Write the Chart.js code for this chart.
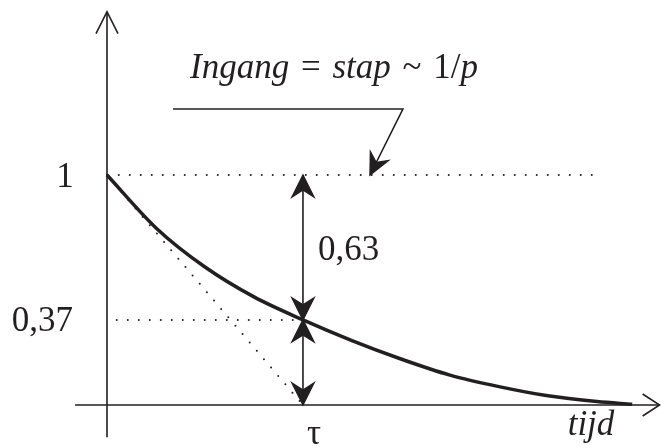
<!DOCTYPE html>
<html>
<head>
<meta charset="utf-8">
<script src="https://cdn.jsdelivr.net/npm/chart.js@4/dist/chart.umd.min.js"></script>
<style>
  html, body { margin: 0; padding: 0; background: #ffffff; }
  canvas { display: block; }
</style>
</head>
<body>
<canvas id="c" width="661" height="448"></canvas>
<script>
// Step response of a first-order system, time in units of tau
const timeTau  = [0, 0.25, 0.5, 0.75, 1, 1.25, 1.5, 1.75, 2, 2.25, 2.5, 2.68];
const response = [1, 0.77, 0.60, 0.47, 0.37, 0.28, 0.20, 0.13, 0.08, 0.04, 0.015, 0.003];

// Reference levels and their labels
const startLevel = 1;
const tauLevel = 0.37;
const tauDrop = 0.63;
const tau = 1;
const yTickValues = [1, 0.37];
const yTickLabels = ['1', '0,37'];
const dropLabel = '0,63';
const tauLabel = '\u03C4';
const timeLabel = 'tijd';

// Helper lines (x in tau, y in response units)
const tangentX = [0, 1];
const tangentY = [1, 0];
const startLineX = [0.06, 2.49];
const tauLineX = [0.05, 0.98];
const calloutX = [0.337, 1.51, 1.342];
const calloutY = [1.287, 1.287, 1.0];
const axisXRange = [-0.163, 2.82];
const axisYRange = [-0.14, 1.71];

// Annotation: input is a step
const titleParts = [
  { t: 'Ingang', it: true }, { t: ' = ', it: false, pad: 3 },
  { t: 'stap', it: true }, { t: ' ~ ', it: false, pad: 3 },
  { t: '1/', it: false }, { t: 'p', it: true }
];

const INK = '#231f20';
const pts = (xs, ys) => xs.map((x, i) => ({ x, y: ys[i] }));

function arrowHead(ctx, tx, ty, fx, fy, len, half, notch) {
  const ang = Math.atan2(ty - fy, tx - fx);
  const c = Math.cos(ang), s = Math.sin(ang);
  const back = (d, w) => [tx - c * d - s * w, ty - s * d + c * w];
  const l = back(len, half), r = back(len, -half), n = back(notch, 0);
  ctx.beginPath();
  ctx.moveTo(tx, ty);
  ctx.lineTo(l[0], l[1]);
  ctx.lineTo(n[0], n[1]);
  ctx.lineTo(r[0], r[1]);
  ctx.closePath();
  ctx.fill();
  ctx.stroke();
}

function openHead(ctx, tx, ty, fx, fy, len, half) {
  const ang = Math.atan2(ty - fy, tx - fx);
  const c = Math.cos(ang), s = Math.sin(ang);
  ctx.beginPath();
  ctx.moveTo(tx - c * len - s * half, ty - s * len + c * half);
  ctx.lineTo(tx, ty);
  ctx.lineTo(tx - c * len + s * half, ty - s * len - c * half);
  ctx.stroke();
}

const decorations = {
  id: 'decorations',
  beforeDatasetsDraw(chart) {
    const { ctx, scales: { x, y } } = chart;
    ctx.save();
    ctx.strokeStyle = INK;
    ctx.lineWidth = 1.6;
    ctx.lineCap = 'butt';
    // axes with open arrowheads
    const x0 = x.getPixelForValue(0), y0 = y.getPixelForValue(0);
    const xEnd = x.getPixelForValue(axisXRange[1]);
    const yTop = y.getPixelForValue(axisYRange[1]);
    ctx.beginPath();
    ctx.moveTo(x.getPixelForValue(axisXRange[0]), y0);
    ctx.lineTo(xEnd, y0);
    ctx.moveTo(x0, y.getPixelForValue(axisYRange[0]));
    ctx.lineTo(x0, yTop);
    ctx.stroke();
    openHead(ctx, xEnd, y0, xEnd - 10, y0, 17, 11);
    openHead(ctx, x0, yTop, x0, yTop + 10, 22, 11);
    ctx.restore();
  },
  afterDatasetsDraw(chart) {
    const { ctx, scales: { x, y } } = chart;
    ctx.save();
    ctx.fillStyle = INK;
    ctx.strokeStyle = INK;
    ctx.lineWidth = 1.4;
    ctx.lineJoin = 'miter';
    // double arrows at t = tau
    const xt = x.getPixelForValue(tau);
    const yS = y.getPixelForValue(startLevel);
    const yT = y.getPixelForValue(tauLevel);
    const y0 = y.getPixelForValue(0);
    arrowHead(ctx, xt, yS, xt, yT, 22, 11, 15);
    arrowHead(ctx, xt, yT, xt, yS, 22, 11, 15);
    arrowHead(ctx, xt, yT, xt, y0, 22, 11, 15);
    arrowHead(ctx, xt, y0, xt, yT, 22, 11, 15);
    // callout arrow
    const cx1 = x.getPixelForValue(calloutX[1]), cy1 = y.getPixelForValue(calloutY[1]);
    const cx2 = x.getPixelForValue(calloutX[2]), cy2 = y.getPixelForValue(calloutY[2]);
    arrowHead(ctx, cx2, cy2, cx1, cy1, 21, 10, 14);

    // texts
    const serif = '"Liberation Serif", "Times New Roman", "DejaVu Serif", serif';
    ctx.textBaseline = 'middle';
    ctx.font = '35px ' + serif;
    ctx.textAlign = 'center';
    ctx.fillText(yTickLabels[0], 65, y.getPixelForValue(yTickValues[0]) + 3);
    ctx.textAlign = 'right';
    ctx.fillText(yTickLabels[1], 73, y.getPixelForValue(yTickValues[1]) + 2);
    ctx.textAlign = 'left';
    ctx.fillText(dropLabel, xt + 15, (yS + yT) / 2 + 3);
    ctx.textAlign = 'center';
    ctx.fillText(tauLabel, xt + 11, y0 + 30);
    ctx.font = 'italic 35px ' + serif;
    ctx.fillText(timeLabel, 591, y0 + 21);

    // title with mixed italic
    ctx.textAlign = 'left';
    ctx.textBaseline = 'alphabetic';
    let px = 190;
    titleParts.forEach(p => {
      const pad = p.pad || 0;
      ctx.font = (p.it ? 'italic ' : '') + '35px ' + serif;
      px += pad;
      ctx.fillText(p.t, px, 78);
      px += ctx.measureText(p.t).width + pad;
    });
    ctx.restore();
  }
};

const dotted = { borderColor: INK, borderWidth: 2, borderDash: [0, 11], borderCapStyle: 'round', pointRadius: 0, tension: 0, fill: false };

new Chart(document.getElementById('c'), {
  type: 'line',
  data: {
    datasets: [
      Object.assign({ data: pts(startLineX, [startLevel, startLevel]) }, dotted),
      Object.assign({ data: pts(tauLineX, [tauLevel, tauLevel]) }, dotted),
      Object.assign({ data: pts(tangentX, tangentY) }, dotted),
      { data: pts([tau, tau], [startLevel, 0]), borderColor: INK, borderWidth: 1.6, pointRadius: 0 },
      { data: pts(calloutX, calloutY), borderColor: INK, borderWidth: 1.6, pointRadius: 0, tension: 0 },
      { data: pts(timeTau, response), borderColor: INK, borderWidth: 3.5, pointRadius: 0,
        cubicInterpolationMode: 'monotone', borderCapStyle: 'butt' }
    ]
  },
  options: {
    responsive: false,
    animation: false,
    events: [],
    layout: { padding: 0 },
    plugins: { legend: { display: false }, tooltip: { enabled: false } },
    scales: {
      x: { type: 'linear', min: -0.546, max: 2.827, display: false },
      y: { type: 'linear', min: -0.187, max: 1.761, display: false }
    }
  },
  plugins: [decorations]
});
</script>
</body>
</html>
